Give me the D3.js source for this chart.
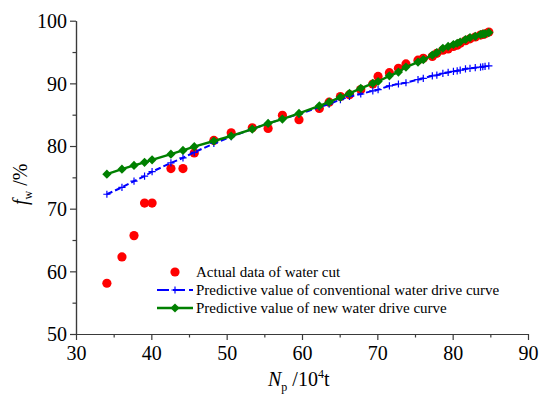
<!DOCTYPE html>
<html>
<head>
<meta charset="utf-8">
<script src="https://cdn.jsdelivr.net/npm/d3@7"></script>
<style>
  html, body { margin: 0; padding: 0; background: #fff; }
  svg { display: block; }
</style>
</head>
<body>
<svg id="chart" width="541" height="397"></svg>
<script>
// Cumulative oil production Np (10^4 t)
const np = [34.1, 36.1, 37.7, 39.1, 40.1, 42.6, 44.2, 45.7, 48.3, 50.6, 53.4, 55.5, 57.4, 59.6,
  62.3, 63.6, 65.1, 66.3, 67.8, 69.4, 70.1, 71.6, 72.8, 73.8, 75.4, 76.1, 77.3, 77.9, 78.7,
  79.4, 80.1, 80.6, 81.0, 81.7, 82.3, 83.0, 83.7, 84.0, 84.3, 84.8];

// Actual water cut (%)
const actual = [58.1, 62.3, 65.7, 70.9, 70.9, 76.4, 76.4, 78.9, 80.9, 82.1, 82.9, 82.8, 84.9, 84.2,
  86.0, 87.0, 87.9, 88.2, 89.0, 89.9, 91.1, 91.7, 92.4, 93.1, 93.7, 94.0, 94.3, 94.8, 95.3,
  95.5, 95.9, 96.1, 96.4, 96.8, 97.1, 97.4, 97.7, 97.8, 97.9, 98.2];

// Predicted water cut, conventional water drive curve (%)
const conventional = [72.3, 73.4, 74.4, 75.2, 75.9, 77.3, 78.1, 79.0, 80.4, 81.5, 82.7, 83.6, 84.3, 85.1,
  86.2, 86.7, 87.4, 87.9, 88.3, 88.8, 89.0, 89.6, 89.9, 90.1, 90.6, 90.8, 91.2, 91.3, 91.6,
  91.75, 91.9, 92.0, 92.1, 92.3, 92.4, 92.5, 92.6, 92.65, 92.7, 92.8];

// Predicted water cut, new water drive curve (%)
const newCurve = [75.5, 76.3, 76.9, 77.4, 77.8, 78.7, 79.3, 79.9, 80.8, 81.6, 82.7, 83.6, 84.3, 85.2,
  86.4, 87.0, 87.8, 88.4, 89.2, 90.0, 90.3, 91.2, 91.8, 92.6, 93.4, 93.8, 94.5, 94.9, 95.6,
  95.9, 96.2, 96.4, 96.6, 97.0, 97.3, 97.5, 97.8, 97.9, 97.9, 98.1];

const xTicks = [30, 40, 50, 60, 70, 80, 90];
const yTicks = [50, 60, 70, 80, 90, 100];
const legendLabels = [
  "Actual data of water cut",
  "Predictive value of conventional water drive curve",
  "Predictive value of new water drive curve"
];

const serif = '"Liberation Serif", serif';
const svg = d3.select("#chart").attr("font-family", serif).style("font-family", serif);
const x = d3.scaleLinear().domain([30, 90]).range([76, 528]);
const y = d3.scaleLinear().domain([50, 100]).range([334, 20.7]);

const axisColor = "#3a3a3a";

// Serif text helper: sets the family both as attribute and inline style
function serifText(sel, size) {
  return sel.attr("font-family", serif).style("font-family", serif)
    .attr("font-size", size).style("font-size", size + "px");
}

// Axes with major and minor ticks
function styleAxis(g) {
  g.attr("font-family", serif).style("font-family", serif);
  g.selectAll("path.domain").attr("stroke", axisColor).attr("stroke-width", 1.2);
  g.selectAll(".tick line").attr("stroke", axisColor).attr("stroke-width", 1.2);
  serifText(g.selectAll(".tick text"), 20).attr("fill", "#000");
}

const xMinor = d3.range(35, 90, 10);
const yMinor = d3.range(55, 100, 10);

svg.append("g").attr("transform", `translate(0,${y(50)})`)
  .call(d3.axisBottom(x).tickValues(xMinor).tickSize(3.5).tickFormat("").tickSizeOuter(0))
  .call(styleAxis);
svg.append("g").attr("transform", `translate(0,${y(50)})`)
  .call(d3.axisBottom(x).tickValues(xTicks).tickSize(6).tickPadding(6).tickFormat(d3.format("d")).tickSizeOuter(0))
  .call(styleAxis);

svg.append("g").attr("transform", `translate(${x(30)},0)`)
  .call(d3.axisLeft(y).tickValues(yMinor).tickSize(3.5).tickFormat("").tickSizeOuter(0))
  .call(styleAxis);
const gy = svg.append("g").attr("transform", `translate(${x(30)},0)`)
  .call(d3.axisLeft(y).tickValues(yTicks).tickSize(6).tickPadding(3).tickFormat(d3.format("d")).tickSizeOuter(0))
  .call(styleAxis);
gy.selectAll(".tick text").attr("dy", "0.34em");

// Axis titles
const xt = serifText(svg.append("text").attr("x", 268).attr("y", 386), 20);
xt.append("tspan").attr("font-style", "italic").text("N");
xt.append("tspan").attr("font-size", 12).style("font-size", "12px").attr("dy", 5).text("p");
xt.append("tspan").attr("dy", -5).text(" /10");
xt.append("tspan").attr("font-size", 12).style("font-size", "12px").attr("dy", -8).text("4");
xt.append("tspan").attr("dy", 8).text("t");

const yt = serifText(svg.append("text").attr("transform", "translate(27,205) rotate(-90)"), 20);
yt.append("tspan").attr("font-style", "italic").text("f");
yt.append("tspan").attr("font-size", 12).style("font-size", "12px").attr("dy", 5).text("w");
yt.append("tspan").attr("dy", -5).text(" /%");

const pts = np.map((v, i) => ({ x: v, a: actual[i], c: conventional[i], n: newCurve[i] }));

const red = "#ff0000", blue = "#0000ff", green = "#008000";
const cross = "M-3.6,0H3.6M0,-3.6V3.6";
const diamond = "M0,-4.6L4.6,0L0,4.6L-4.6,0Z";

// Actual data: red dots
svg.append("g").selectAll("circle").data(pts).join("circle")
  .attr("cx", d => x(d.x)).attr("cy", d => y(d.a)).attr("r", 4.6).attr("fill", red);

// Conventional curve: dashed blue with crosses
svg.append("path").datum(pts)
  .attr("fill", "none").attr("stroke", blue).attr("stroke-width", 2)
  .attr("stroke-dasharray", "6,3")
  .attr("d", d3.line().x(d => x(d.x)).y(d => y(d.c)));
svg.append("g").selectAll("path").data(pts).join("path")
  .attr("transform", d => `translate(${x(d.x)},${y(d.c)})`)
  .attr("d", cross).attr("stroke", blue).attr("stroke-width", 1.2).attr("fill", "none");

// New curve: solid green with diamonds
svg.append("path").datum(pts)
  .attr("fill", "none").attr("stroke", green).attr("stroke-width", 2.4)
  .attr("d", d3.line().x(d => x(d.x)).y(d => y(d.n)));
svg.append("g").selectAll("path").data(pts).join("path")
  .attr("transform", d => `translate(${x(d.x)},${y(d.n)})`)
  .attr("d", diamond).attr("fill", green);

// Legend
const lg = svg.append("g");
const ly = [272, 290, 308];
lg.append("circle").attr("cx", 175).attr("cy", ly[0]).attr("r", 4.6).attr("fill", red);
lg.append("line").attr("x1", 157).attr("x2", 193).attr("y1", ly[1]).attr("y2", ly[1])
  .attr("stroke", blue).attr("stroke-width", 2).attr("stroke-dasharray", "12,4");
lg.append("path").attr("transform", `translate(175,${ly[1]})`).attr("d", cross)
  .attr("stroke", blue).attr("stroke-width", 1.2);
lg.append("line").attr("x1", 157).attr("x2", 193).attr("y1", ly[2]).attr("y2", ly[2])
  .attr("stroke", green).attr("stroke-width", 2.4);
lg.append("path").attr("transform", `translate(175,${ly[2]})`).attr("d", diamond).attr("fill", green);
serifText(lg.selectAll("text.lab").data(legendLabels).join("text").attr("class", "lab"), 15)
  .attr("x", 196).attr("y", (d, i) => ly[i] + 5).text(d => d);
</script>
</body>
</html>
